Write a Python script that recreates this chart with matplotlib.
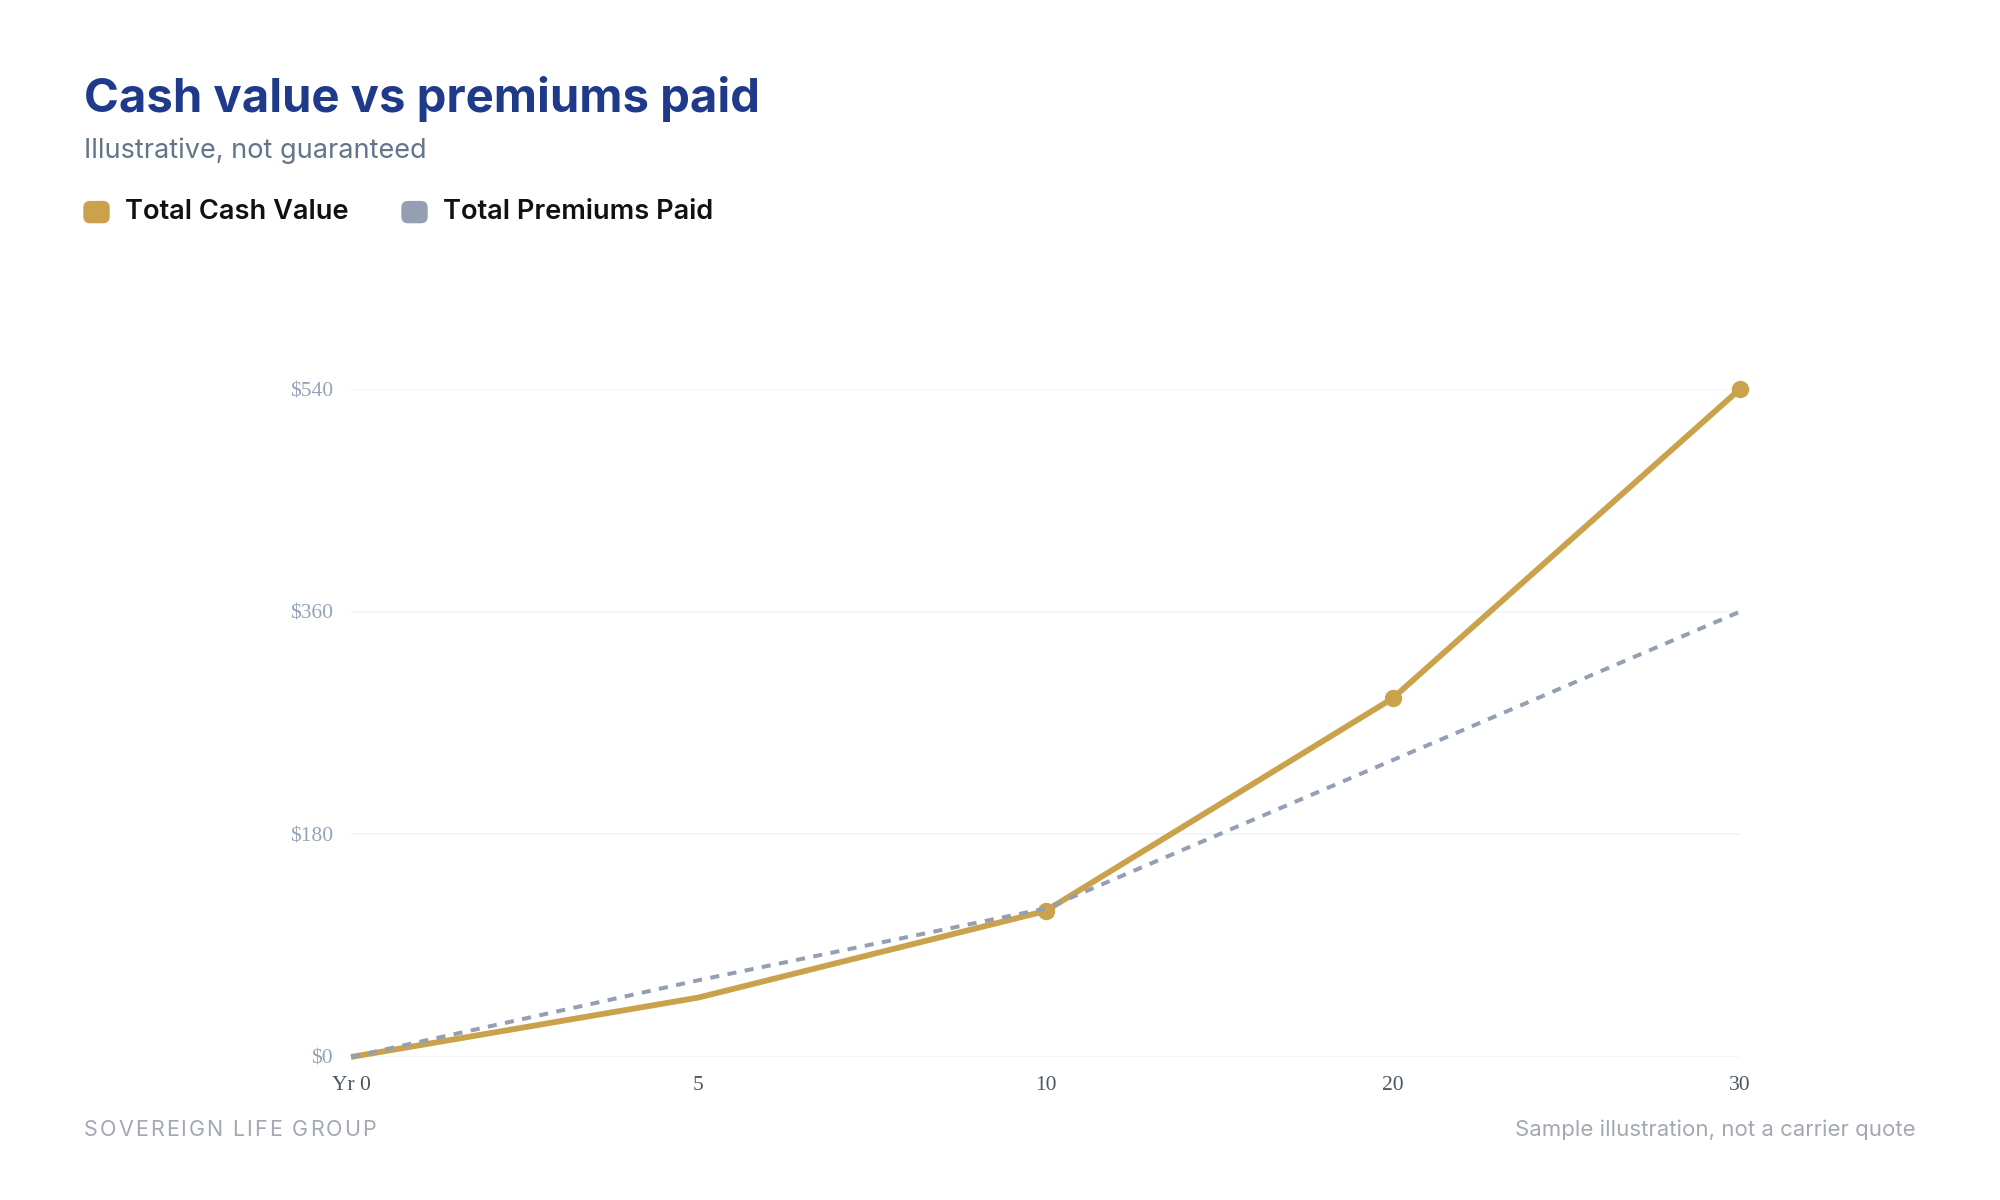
import matplotlib.pyplot as plt
from matplotlib.patches import FancyBboxPatch
from matplotlib.font_manager import FontProperties

years = ["Yr 0", "5", "10", "20", "30"]
cash_value = [0, 48, 118, 290, 540]
premiums_paid = [0, 62, 120, 240, 360]
y_ticks = [0, 180, 360, 540]
y_labels = ["$0", "$180", "$360", "$540"]

gold = "#c9a24b"
slate = "#94a0b2"

fig = plt.figure(figsize=(20, 12), dpi=100)
ax = fig.add_axes([0.1755, 0.1192, 0.6945, 0.5566])

x = list(range(len(years)))
ax.plot(x, cash_value, color=gold, lw=4.2, marker="o", markersize=11.5,
        markevery=[2, 3, 4], solid_capstyle="butt", clip_on=False, zorder=3)
ax.plot(x, premiums_paid, color=slate, lw=2.9, dashes=(2.25, 2.1),
        clip_on=False, zorder=4)

ax.set_xlim(0, len(years) - 1)
ax.set_ylim(0, 540)
ax.set_xticks(x)
ax.set_xticklabels(years, family="Liberation Serif", fontsize=15.5, color="#4b5563")
ax.set_yticks(y_ticks)
ax.set_yticklabels(y_labels, family="Liberation Serif", fontsize=15.5, color="#94a3b8")
ax.tick_params(length=0)
ax.tick_params(axis="x", pad=14)
ax.tick_params(axis="y", pad=13)
ax.grid(axis="y", color="#f1f3f6", lw=1.2)
for s in ax.spines.values():
    s.set_visible(False)

# header
fig.text(0.042, 0.907, "Cash value vs premiums paid", family="Inter", weight="bold",
         fontsize=34, color="#1f3a8a", va="baseline")
fig.text(0.042, 0.8685, "Illustrative, not guaranteed", family="Inter",
         fontsize=19.5, color="#64748b", va="baseline")

# legend
legend_items = [("Total Cash Value", gold, 0.042), ("Total Premiums Paid", slate, 0.201)]
for label, col, lx in legend_items:
    fig.patches.append(FancyBboxPatch((lx, 0.8145), 0.0125, 0.0175,
                                      boxstyle="round,pad=0,rounding_size=0.003",
                                      transform=fig.transFigure, color=col,
                                      mutation_aspect=20 / 12))
    fig.text(lx + 0.0205, 0.8235, label, family="Inter", weight="semibold",
             fontsize=19.6, color="#111111", va="center")

# footer, left text is letter-spaced
footer_left = "SOVEREIGN LIFE GROUP"
fp = FontProperties(family="Inter", size=15.5)
renderer = fig.canvas.get_renderer()
x0 = 0.042 * 2000
tracking = 2.0
for i, ch in enumerate(footer_left):
    w = renderer.get_text_width_height_descent(footer_left[:i], fp, ismath=False)[0] if i else 0
    fig.text((x0 + w + i * tracking) / 2000, 0.0585, ch, fontproperties=fp,
             color="#a3a8b1", va="center")
fig.text(0.958, 0.0585, "Sample illustration, not a carrier quote", family="Inter",
         fontsize=16, color="#a3a8b1", va="center", ha="right")

fig.savefig("out.png", dpi=100, facecolor="white")
